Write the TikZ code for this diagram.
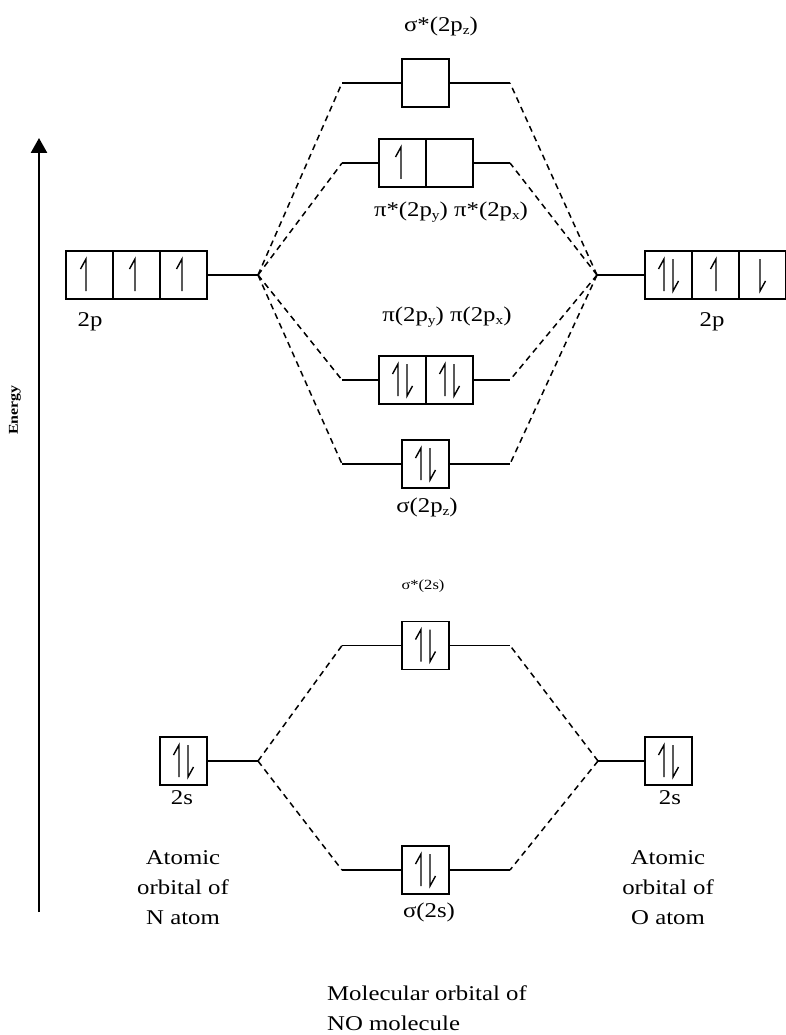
\documentclass[tikz,border=0pt]{standalone}
\usepackage{fontspec}
\setmainfont{Liberation Serif}[FakeStretch=1.18]
\usetikzlibrary{arrows.meta}
\newcommand\lsub[1]{\raisebox{-0.35ex}{\fontsize{13}{13}\selectfont #1}}
\begin{document}
\begin{tikzpicture}[x=1pt,y=-1pt,
  orb/.style={draw, line width=1.8pt, minimum width=47pt, minimum height=48pt, inner sep=0pt},
  lvl/.style={line width=1.6pt},
  corr/.style={line width=1.5pt, dash pattern=on 6pt off 4.5pt},
  lbl/.style={font=\fontsize{21}{25}\selectfont, inner sep=0pt},
  up/.pic={\draw[line width=1.4pt] (-5.5,-6) -- (0,-16) -- (0,16);},
  dn/.pic={\draw[line width=1.4pt] (0,-16) -- (0,16) -- (5.5,6);}
]
\useasboundingbox (0,0) rectangle (786,1035);

% Energy axis
\coordinate (etop) at (39,138);
\coordinate (ebot) at (39,912);
\draw[line width=2.6pt, -{Triangle[width=16pt,length=15pt]}] (ebot) -- (etop);
\node[rotate=90, font=\bfseries\fontsize{13.5}{15}\selectfont] (en) at (15,410) {Energy};

% ---------- left N 2p ----------
\node[orb] (n1) at (89.5,275) {};
\node[orb] (n2) at (136.5,275) {};
\node[orb] (n3) at (183.5,275) {};
\pic at (86,275) {up};
\pic at (135,275) {up};
\pic at (182,275) {up};
\node[lbl] (n2plbl) at (90,322) {2p};
\coordinate (L2p) at (258,275);
\draw[lvl] (n3.east) -- (L2p);

% ---------- right O 2p ----------
\node[orb] (o1) at (668.5,275) {};
\node[orb] (o2) at (715.5,275) {};
\node[orb] (o3) at (762.5,275) {};
\pic at (664,275) {up};
\pic at (673,275) {dn};
\pic at (716,275) {up};
\pic at (760,275) {dn};
\node[lbl] (o2plbl) at (712,322) {2p};
\coordinate (R2p) at (597,275);
\draw[lvl] (R2p) -- (o1.west);

% ---------- sigma*(2pz) ----------
\node[orb] (ssp) at (425.5,83) {};
\coordinate (sspl) at (342,83);
\coordinate (sspr) at (510,83);
\draw[lvl] (sspl) -- (ssp.west) (ssp.east) -- (sspr);
\node[lbl] (ssplbl) at (441,26) {σ*(2p\lsub{z})};

% ---------- pi* ----------
\node[orb] (ps1) at (402.5,163) {};
\node[orb] (ps2) at (449.5,163) {};
\pic at (401,163) {up};
\coordinate (psl) at (342,163);
\coordinate (psr) at (510,163);
\draw[lvl] (psl) -- (ps1.west) (ps2.east) -- (psr);
\node[lbl] (pslbl) at (451,212) {π*(2p\lsub{y}) π*(2p\lsub{x})};

% ---------- pi ----------
\node[orb] (p1) at (402.5,380) {};
\node[orb] (p2) at (449.5,380) {};
\pic at (398,380) {up};
\pic at (407,380) {dn};
\pic at (445,380) {up};
\pic at (454,380) {dn};
\coordinate (pl) at (342,380);
\coordinate (pr) at (510,380);
\draw[lvl] (pl) -- (p1.west) (p2.east) -- (pr);
\node[lbl] (plbl) at (447,317) {π(2p\lsub{y}) π(2p\lsub{x})};

% ---------- sigma(2pz) ----------
\node[orb] (sp) at (425.5,464) {};
\pic at (421,464) {up};
\pic at (430,464) {dn};
\coordinate (spl) at (342,464);
\coordinate (spr) at (510,464);
\draw[lvl] (spl) -- (sp.west) (sp.east) -- (spr);
\node[lbl] (splbl) at (427,507) {σ(2p\lsub{z})};

% 2p correlation lines
\foreach \t in {sspl,psl,pl,spl} \draw[corr] (L2p) -- (\t);
\foreach \t in {sspr,psr,pr,spr} \draw[corr] (R2p) -- (\t);

% ---------- sigma*(2s) ----------
\node[orb] (sss) at (425.5,645.5) {};
\pic at (421,645.5) {up};
\pic at (430,645.5) {dn};
\coordinate (sssl) at (342,645.5);
\coordinate (sssr) at (510,645.5);
\draw[lvl] (sssl) -- (sss.west) (sss.east) -- (sssr);
\node[font=\fontsize{14}{16}\selectfont, inner sep=0pt] (ssslbl) at (423,586) {σ*(2s)};

% ---------- sigma(2s) ----------
\node[orb] (ss) at (425.5,870) {};
\pic at (421,870) {up};
\pic at (430,870) {dn};
\coordinate (ssl) at (342,870);
\coordinate (ssr) at (510,870);
\draw[lvl] (ssl) -- (ss.west) (ss.east) -- (ssr);
\node[lbl] (sslbl) at (429,912) {σ(2s)};

% ---------- atomic 2s ----------
\node[orb] (n2s) at (183.5,761) {};
\pic at (179,761) {up};
\pic at (188,761) {dn};
\node[lbl] (n2slbl) at (182,798) {2s};
\coordinate (L2s) at (258,761);
\draw[lvl] (n2s.east) -- (L2s);

\node[orb] (o2s) at (668.5,761) {};
\pic at (664,761) {up};
\pic at (673,761) {dn};
\node[lbl] (o2slbl) at (670,798) {2s};
\coordinate (R2s) at (598,761);
\draw[lvl] (R2s) -- (o2s.west);

\foreach \t in {sssl,ssl} \draw[corr] (L2s) -- (\t);
\foreach \t in {sssr,ssr} \draw[corr] (R2s) -- (\t);

% ---------- captions ----------
\node[lbl, align=center, font=\fontsize{21}{30}\selectfont] (natom) at (183,888) {Atomic\\orbital of\\N atom};
\node[lbl, align=center, font=\fontsize{21}{30}\selectfont] (oatom) at (668,888) {Atomic\\orbital of\\O atom};
\node[lbl, align=left, anchor=west, font=\fontsize{21}{30}\selectfont] (mo) at (327,1008) {Molecular orbital of\\NO molecule};
\end{tikzpicture}
\end{document}
